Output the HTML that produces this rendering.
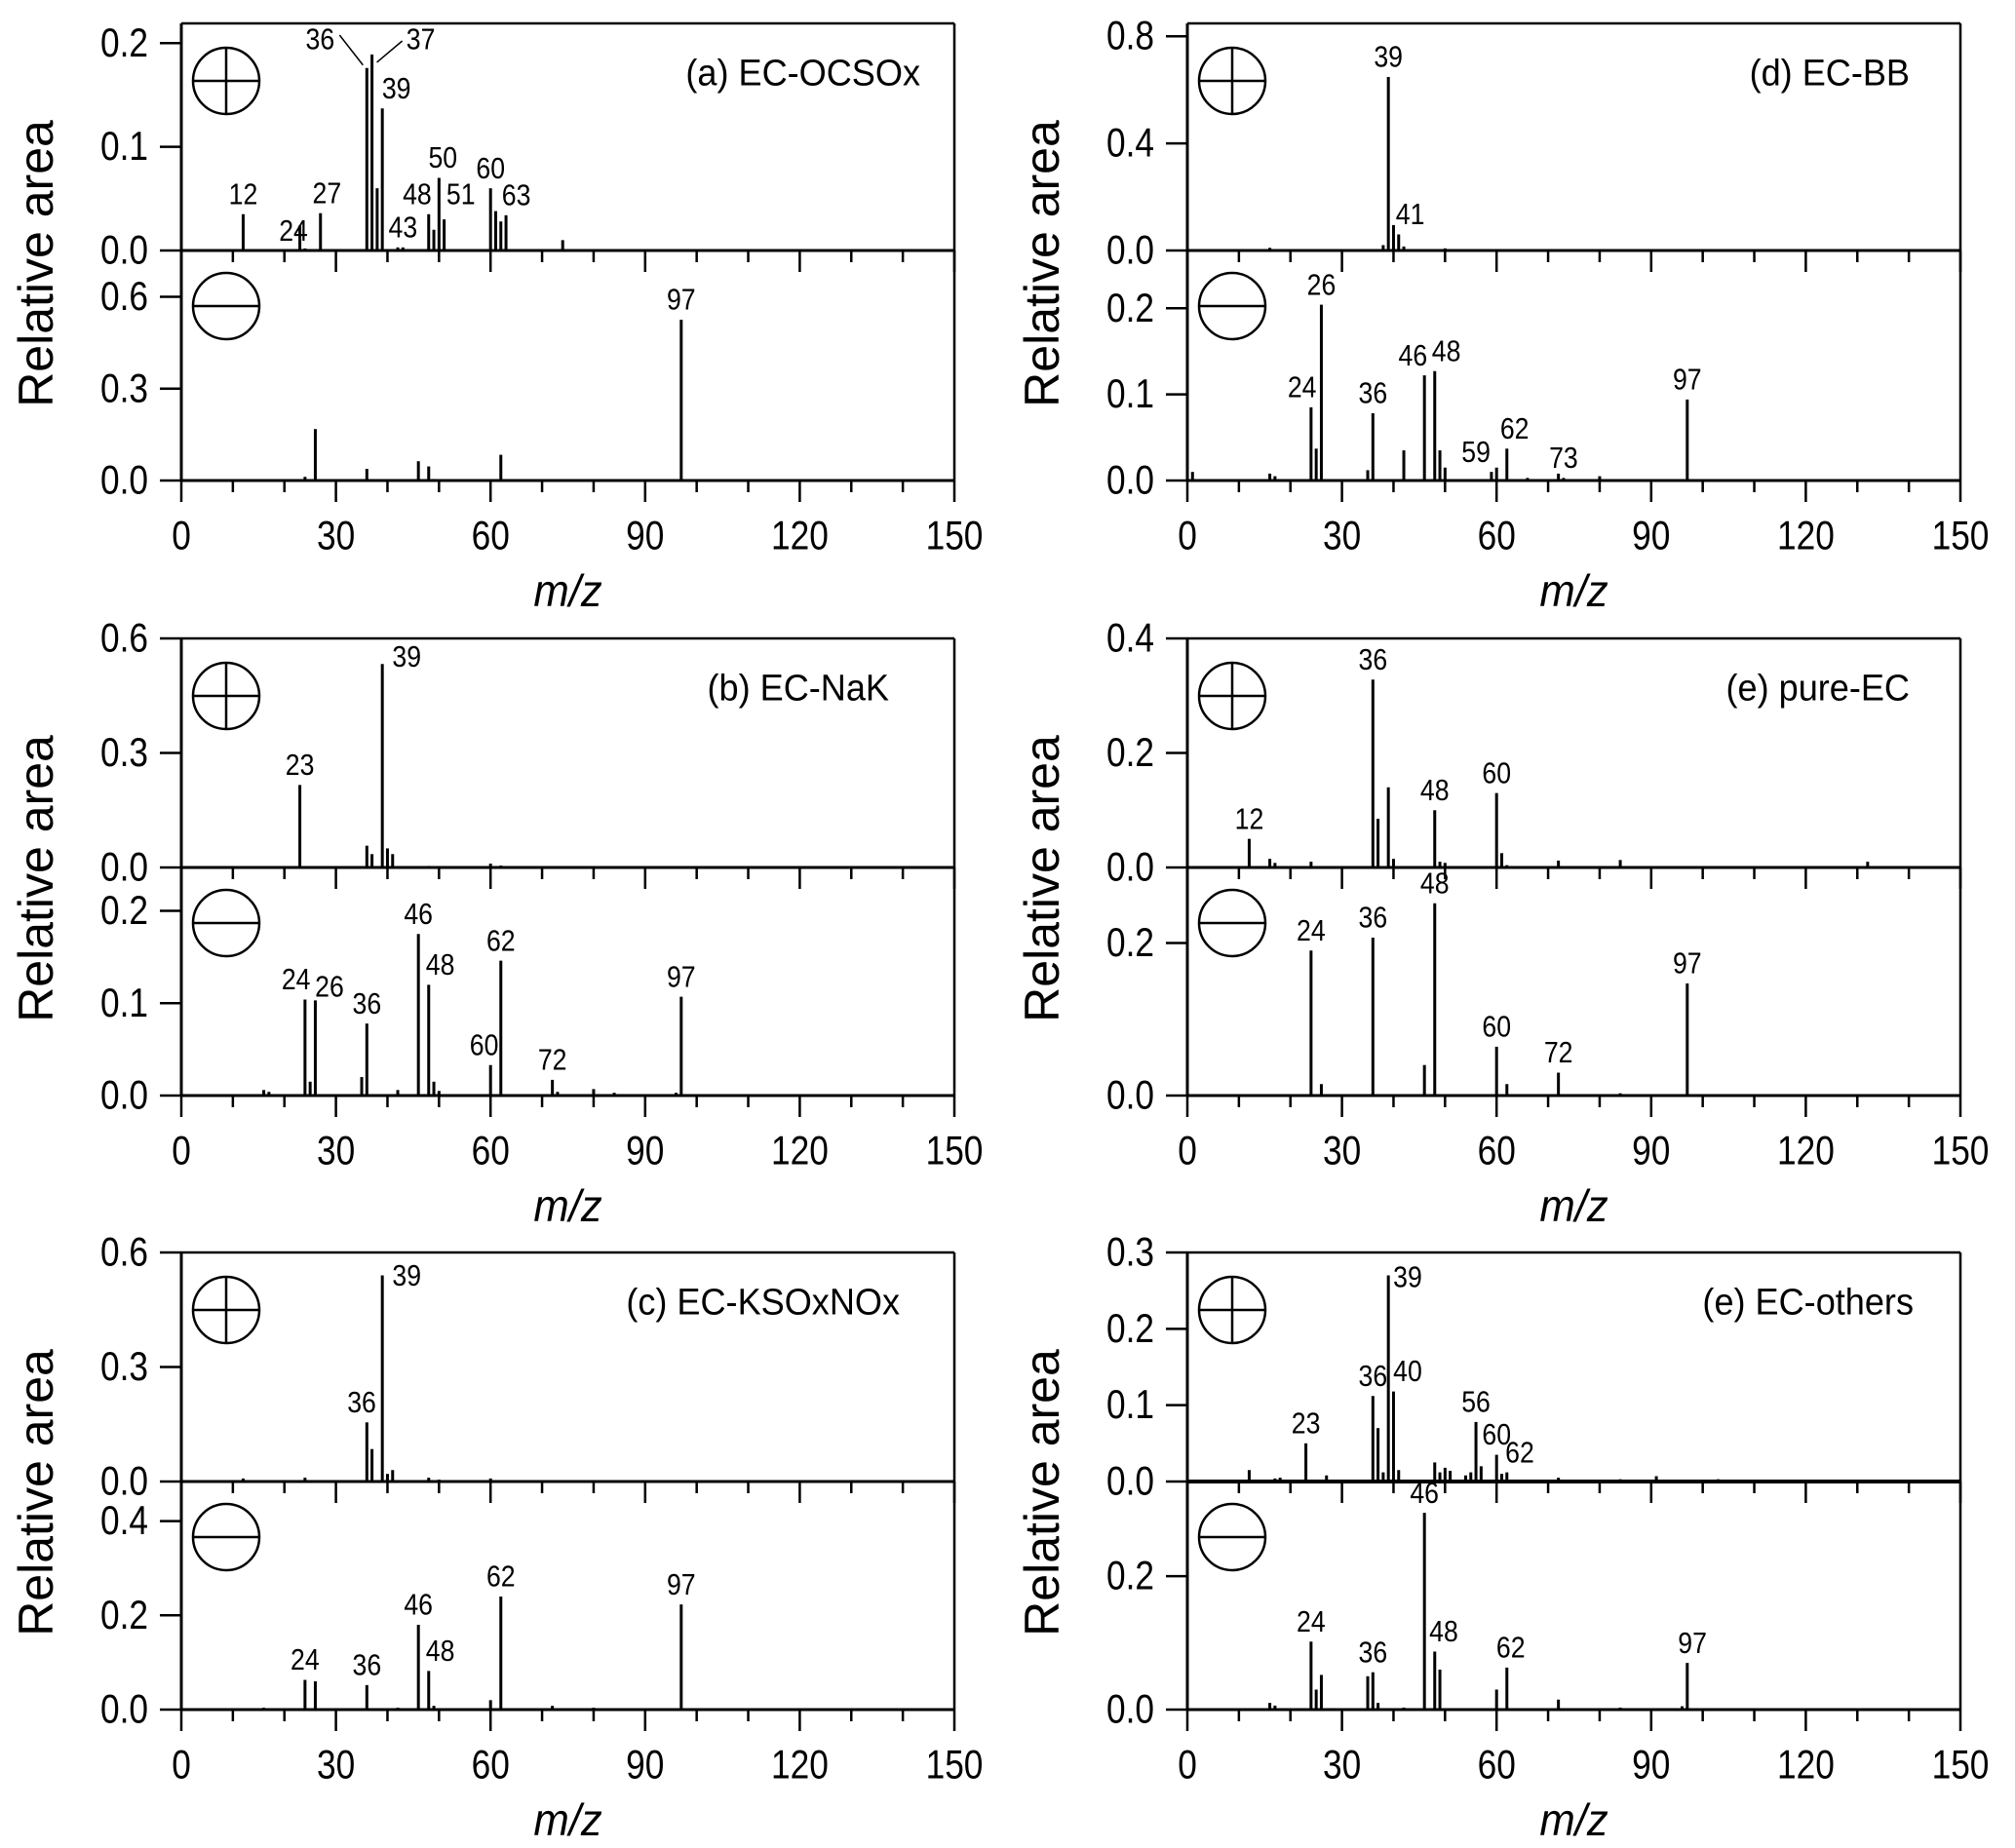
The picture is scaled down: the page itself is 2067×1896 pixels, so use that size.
<!DOCTYPE html>
<html><head><meta charset="utf-8"><style>
body{margin:0;background:#fff}
svg{display:block}
text{font-family:"Liberation Sans Narrow","Liberation Sans",sans-serif;fill:#000}
</style></head><body>
<svg id="fig" width="2067" height="1896" viewBox="0 0 2067 1896" xmlns="http://www.w3.org/2000/svg"></svg>
<script>
// ---- data ----
const xTicks = [0, 30, 60, 90, 120, 150];
const titles = ["(a) EC-OCSOx", "(d) EC-BB", "(b) EC-NaK", "(e) pure-EC", "(c) EC-KSOxNOx", "(e) EC-others"];
const upperTicks = [[0, 0.1, 0.2], [0, 0.4, 0.8], [0, 0.3, 0.6], [0, 0.2, 0.4], [0, 0.3, 0.6], [0, 0.1, 0.2, 0.3]];
const lowerTicks = [[0, 0.3, 0.6], [0, 0.1, 0.2], [0, 0.1, 0.2], [0, 0.2], [0, 0.2, 0.4], [0, 0.2]];
const upperMax = [0.219, 0.848, 0.6, 0.4, 0.6, 0.3];
const lowerMax = [0.751, 0.267, 0.247, 0.299, 0.484, 0.342];
const upperMz = [
  [12,23,24,27,36,37,38,39,42,43,48,49,50,51,60,61,62,63,74],
  [16,24,38,39,40,41,42,50,51,62],
  [12,23,36,37,39,40,41,48,60,62],
  [12,16,17,24,36,37,39,40,48,49,50,60,61,62,72,84,132],
  [12,24,36,37,39,40,41,48,50,60],
  [12,17,18,23,27,36,37,38,39,40,41,48,49,50,51,54,55,56,57,60,61,62,72,84,91,103]
];
const upperVal = [
  [0.035,0.024,0.002,0.036,0.176,0.189,0.06,0.137,0.003,0.003,0.035,0.02,0.07,0.03,0.06,0.038,0.028,0.034,0.01],
  [0.01,0.005,0.02,0.648,0.095,0.06,0.015,0.008,0.005,0.004],
  [0.003,0.216,0.057,0.035,0.533,0.05,0.035,0.004,0.01,0.005],
  [0.05,0.015,0.008,0.01,0.328,0.085,0.14,0.015,0.1,0.01,0.008,0.13,0.025,0.004,0.012,0.013,0.01],
  [0.008,0.01,0.155,0.085,0.54,0.02,0.03,0.01,0.005,0.008],
  [0.015,0.004,0.005,0.05,0.008,0.112,0.07,0.012,0.27,0.118,0.015,0.025,0.012,0.018,0.014,0.008,0.012,0.078,0.02,0.035,0.01,0.012,0.005,0.003,0.007,0.003]
];
const lowerMz = [
  [24,25,26,36,46,48,49,62,97],
  [1,16,17,24,25,26,35,36,42,46,48,49,50,59,60,62,66,72,73,80,97],
  [16,17,24,25,26,35,36,42,46,48,49,50,60,62,72,73,80,84,96,97],
  [24,26,36,46,48,60,62,72,84,97],
  [16,24,26,36,42,46,48,49,60,62,72,80,97],
  [16,17,24,25,26,35,36,37,42,46,48,49,60,62,72,84,96,97]
];
const lowerVal = [
  [0.012,0.004,0.168,0.038,0.063,0.046,0.005,0.084,0.525],
  [0.01,0.008,0.005,0.085,0.037,0.204,0.012,0.078,0.035,0.122,0.127,0.035,0.015,0.01,0.015,0.037,0.003,0.008,0.003,0.005,0.094],
  [0.006,0.004,0.104,0.015,0.103,0.02,0.078,0.006,0.175,0.12,0.015,0.005,0.033,0.146,0.017,0.004,0.007,0.003,0.003,0.107],
  [0.19,0.015,0.207,0.04,0.252,0.064,0.015,0.03,0.003,0.147],
  [0.004,0.063,0.06,0.052,0.004,0.18,0.082,0.008,0.02,0.24,0.008,0.004,0.223],
  [0.01,0.006,0.102,0.03,0.052,0.05,0.056,0.01,0.003,0.295,0.087,0.06,0.03,0.063,0.015,0.003,0.005,0.07]
];
const upperLabels = [
  [12,24,27,39,43,48,50,51,60,63],[39,41],[23,39],[12,36,48,60],[36,39],[23,36,40,39,56,60,62]
];
const lowerLabels = [
  [97],[24,26,36,46,48,59,62,73,97],[24,26,36,46,48,60,62,72,97],[24,36,48,60,72,97],[24,36,46,48,62,97],[24,36,46,48,62,97]
];
// label offsets (layout, display px) keyed "panel-part-mz"
const labelShift = {
  "0-u-24":[-9,2],"0-u-27":[5,0],"0-u-39":[11,0],"0-u-48":[-9,0],"0-u-50":[3,0],"0-u-51":[13,-4],"0-u-63":[8,0],
  "1-u-41":[9,0],"1-l-24":[-7,0],"1-l-46":[-9,0],"1-l-48":[9,0],"1-l-59":[-12,0],"1-l-62":[6,0],
  "2-u-39":[19,10],"2-l-24":[-7,0],"2-l-26":[11,5],"2-l-48":[9,0],"2-l-60":[-5,0],
  "4-u-36":[-4,0],"4-u-39":[19,16],"4-l-48":[9,0],
  "5-u-40":[11,0],"5-u-39":[15,17],"5-u-62":[10,0],"5-l-48":[7,0],"5-l-62":[3,0],"5-l-97":[4,0]
};
// ---- layout ----
const S = 1.318;
const cols = [[186, 979], [1218, 2011]];
const rows = [[24, 257, 493], [655, 890, 1124], [1285, 1520, 1754]];
const titleRight = [944, 1959, 912, 1959, 923, 1963];
const svg = document.getElementById('fig');
const NS = 'http://www.w3.org/2000/svg';
function el(tag, attrs, parent) {
  const e = document.createElementNS(NS, tag);
  for (const k in attrs) e.setAttribute(k, attrs[k]);
  (parent || svg).appendChild(e);
  return e;
}
function line(x1, y1, x2, y2, w, p) { return el('line', {x1, y1, x2, y2, stroke: '#000', 'stroke-width': w}, p); }
function txt(x, y, s, size, anchor, p, sx) {
  const t = el('text', {x: 0, y: 0, 'font-size': size, 'text-anchor': anchor || 'middle', 'dominant-baseline': 'central',
    transform: `translate(${x} ${y}) scale(${sx || 1} 1)`}, p);
  t.textContent = s; return t;
}
for (let i = 0; i < 6; i++) {
  const [x0, x1] = cols[i % 2];
  const [top, mid, bot] = rows[Math.floor(i / 2)];
  const g = el('g', {});
  
  
  const xs = mz => x0 + (x1 - x0) * mz / 150;
  const yu = v => mid - (mid - top) * v / upperMax[i];
  const yl = v => bot - (bot - mid) * v / lowerMax[i];
  line(x0, top, x1, top, 2.5, g);
  line(x1, top, x1, bot, 2.5, g);
  line(x0, top, x0, bot, 3, g);
  line(x0, mid, x1, mid, i === 5 ? 4 : 3, g);
  line(x0, bot, x1, bot, 3, g);
  for (let m = 0; m <= 150; m += 10) {
    const L = m % 30 === 0 ? 22 : 12;
    line(xs(m), mid, xs(m), mid + L, 2.5, g);
    line(xs(m), bot, xs(m), bot + L, 2.5, g);
  }
  xTicks.forEach(m => {
    const t = txt(xs(m), bot + 57, String(m), 42, 'middle', g, 0.84);
    
    
  });
  const xt = txt((x0 + x1) / 2, bot + 113, 'm/z', 46, 'middle', g, 0.95);
  xt.setAttribute('font-style', 'italic');
  
  
  const yx = x0 - 149, ym = (top + bot) / 2 + 12;
  const yt = el('text', {x: yx, y: ym, 'font-size': 50, 'text-anchor': 'middle', 'dominant-baseline': 'central',
    'font-family': '"Liberation Sans", sans-serif', transform: `rotate(-90 ${yx} ${ym})`}, g);
  yt.textContent = 'Relative area';
  
  
  upperTicks[i].forEach(v => {
    line(x0 - 22, yu(v), x0, yu(v), 2.5, g);
    const t = txt(x0 - 34, yu(v), v.toFixed(1), 42, 'end', g, 0.84);
    
    
  });
  lowerTicks[i].forEach(v => {
    line(x0 - 22, yl(v), x0, yl(v), 2.5, g);
    const t = txt(x0 - 34, yl(v), v.toFixed(1), 42, 'end', g, 0.84);
    
    
  });
  const tt = txt(titleRight[i], top + 50, titles[i], 38, 'end', g, 0.95);
  tt.setAttribute('font-family', '"Liberation Sans", sans-serif');
  
  
  const cx = x0 + 46;
  const cp = el('g', {}, g);
  
  
  el('circle', {cx, cy: top + 59, r: 34, fill: 'none', stroke: '#000', 'stroke-width': 2.5}, cp);
  line(cx - 34, top + 59, cx + 34, top + 59, 2.5, cp);
  line(cx, top + 25, cx, top + 93, 2.5, cp);
  const cn = el('g', {}, g);
  
  
  el('circle', {cx, cy: mid + 57, r: 34, fill: 'none', stroke: '#000', 'stroke-width': 2.5}, cn);
  line(cx - 34, mid + 57, cx + 34, mid + 57, 2.5, cn);
  upperMz[i].forEach((m, k) => {
    const b = line(xs(m), mid, xs(m), yu(upperVal[i][k]), 3, g);
    
    
  });
  lowerMz[i].forEach((m, k) => {
    const b = line(xs(m), bot, xs(m), yl(lowerVal[i][k]), 3, g);
    
    
  });
  function addLabels(list, mzs, vals, yf, part) {
    list.forEach(m => {
      const k = mzs.indexOf(m);
      const v = k >= 0 ? vals[k] : 0;
      const sh = labelShift[i + '-' + part + '-' + m] || [0, 0];
      const t = txt(xs(m) + sh[0] * S, yf(v) - 20 + sh[1] * S, String(m), 31, 'middle', g, 0.86);
      
      
    });
  }
  addLabels(upperLabels[i], upperMz[i], upperVal[i], yu, 'u');
  addLabels(lowerLabels[i], lowerMz[i], lowerVal[i], yl, 'l');
  if (i === 0) {
    const k36 = upperMz[0].indexOf(36), k37 = upperMz[0].indexOf(37);
    const t36 = txt(xs(36) - 48, top + 17, '36', 31, 'middle', g, 0.86);
    
    
    line(xs(36) - 28, top + 12, xs(36) - 4, yu(upperVal[0][k36]) - 3, 1.5, g);
    const t37 = txt(xs(37) + 50, top + 17, '37', 31, 'middle', g, 0.86);
    
    
    line(xs(37) + 5, yu(upperVal[0][k37]) + 8, xs(37) + 31, top + 18, 1.5, g);
  }
}
</script>
</body></html>
